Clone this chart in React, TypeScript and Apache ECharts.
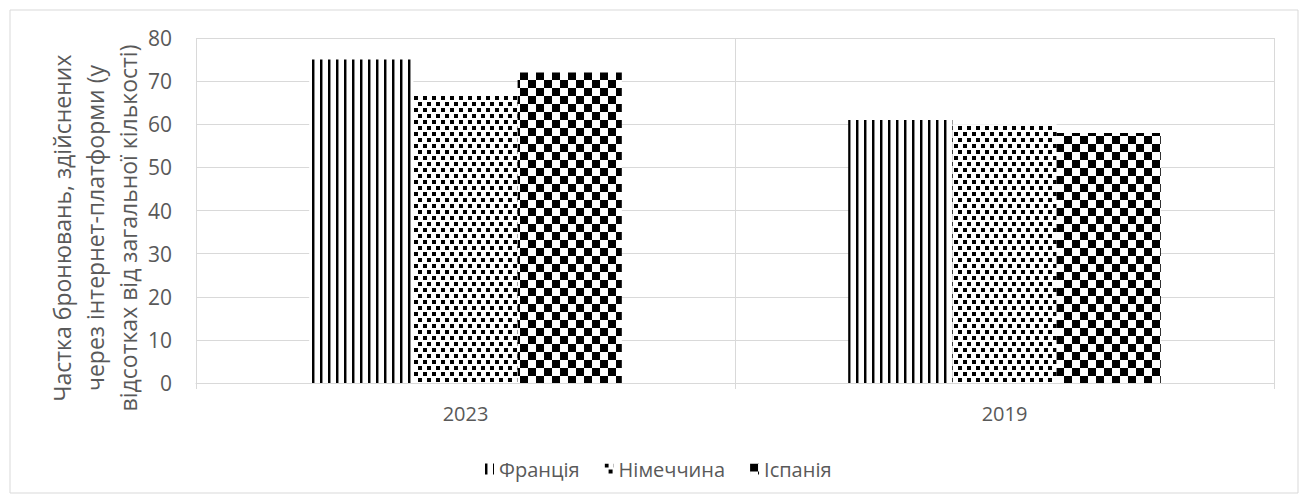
import React, { useEffect, useRef } from "react";
import * as echarts from "echarts";

const categories = ["2023", "2019"];
const seriesNames = ["Франція", "Німеччина", "Іспанія"];
const franceValues = [75, 61];
const germanyValues = [67, 60];
const spainValues = [72, 58];
const yTicks = { min: 0, max: 80, interval: 10 };
const yAxisTitle = "Частка бронювань, здійснених\nчерез інтернет-платформи (у\nвідсотках від загальної кількості)";

const FONT = "'Open Sans', 'Noto Sans', sans-serif";
const TEXT_COLOR = "#595959";
const GRID_COLOR = "#d9d9d9";

function makeTile(w: number, h: number, draw: (ctx: CanvasRenderingContext2D) => void) {
  const c = document.createElement("canvas");
  c.width = w;
  c.height = h;
  const ctx = c.getContext("2d")!;
  ctx.fillStyle = "#ffffff";
  ctx.fillRect(0, 0, w, h);
  ctx.fillStyle = "#000000";
  draw(ctx);
  return c;
}

// Vertical stripes
function stripePattern() {
  return makeTile(8, 8, (ctx) => {
    ctx.fillRect(0, 0, 2, 8);
    ctx.fillStyle = "#8a8a8a";
    ctx.fillRect(2, 0, 1, 8);
  });
}

// Staggered small dots
function dotPattern() {
  return makeTile(9, 12, (ctx) => {
    ctx.fillRect(0, 0, 4, 4);
    ctx.fillRect(4, 6, 4, 4);
  });
}

// Checkerboard
function checkerPattern() {
  return makeTile(16, 16, (ctx) => {
    ctx.fillRect(0, 0, 8, 8);
    ctx.fillRect(8, 8, 8, 8);
  });
}

export default function App() {
  const ref = useRef<HTMLDivElement>(null);

  useEffect(() => {
    if (!ref.current) return;
    const chart = echarts.init(ref.current, undefined, { renderer: "svg" });

    const fills = [stripePattern(), dotPattern(), checkerPattern()].map((img) => ({
      image: img,
      repeat: "repeat",
    }));
    const values = [franceValues, germanyValues, spainValues];

    chart.setOption({
      animation: false,
      backgroundColor: "#ffffff",
      textStyle: { fontFamily: FONT },
      grid: { left: 196, right: 34, top: 38, bottom: 119, containLabel: false },
      graphic: [
        {
          type: "rect",
          shape: { x: 10, y: 10, width: 1288, height: 483 },
          style: { fill: "none", stroke: GRID_COLOR, lineWidth: 1 },
          silent: true,
        },
        {
          type: "text",
          x: 95,
          y: 228,
          rotation: Math.PI / 2,
          style: {
            text: yAxisTitle,
            font: `23px ${FONT}`,
            fill: TEXT_COLOR,
            align: "center",
            verticalAlign: "middle",
            lineHeight: 33,
          },
          silent: true,
        },
      ],
      legend: {
        data: seriesNames,
        left: 485,
        top: 459,
        padding: 0,
        itemWidth: 9,
        itemHeight: 11,
        itemGap: 25,
        icon: "rect",
        textStyle: { color: TEXT_COLOR, fontSize: 20, fontFamily: FONT },
      },
      xAxis: {
        type: "category",
        data: categories,
        axisLine: { show: true, lineStyle: { color: GRID_COLOR, width: 1 } },
        axisTick: { show: true, length: 6, lineStyle: { color: GRID_COLOR } },
        splitLine: { show: true, lineStyle: { color: GRID_COLOR, width: 1 } },
        axisLabel: { color: TEXT_COLOR, fontSize: 20, margin: 20, fontFamily: FONT },
      },
      yAxis: {
        type: "value",
        min: yTicks.min,
        max: yTicks.max,
        interval: yTicks.interval,
        axisLine: { show: false },
        axisTick: { show: false },
        splitLine: { show: true, lineStyle: { color: GRID_COLOR, width: 1 } },
        axisLabel: { color: TEXT_COLOR, fontSize: 21, margin: 24, fontFamily: FONT },
      },
      series: seriesNames.map((name, i) => ({
        name,
        type: "bar",
        data: values[i],
        barGap: "0%",
        barCategoryGap: "42%",
        itemStyle: { color: fills[i] },
      })),
    });

    return () => chart.dispose();
  }, []);

  return (
    <div
      ref={ref}
      style={{ position: "fixed", left: 0, top: 0, width: 1308, height: 502 }}
    />
  );
}
